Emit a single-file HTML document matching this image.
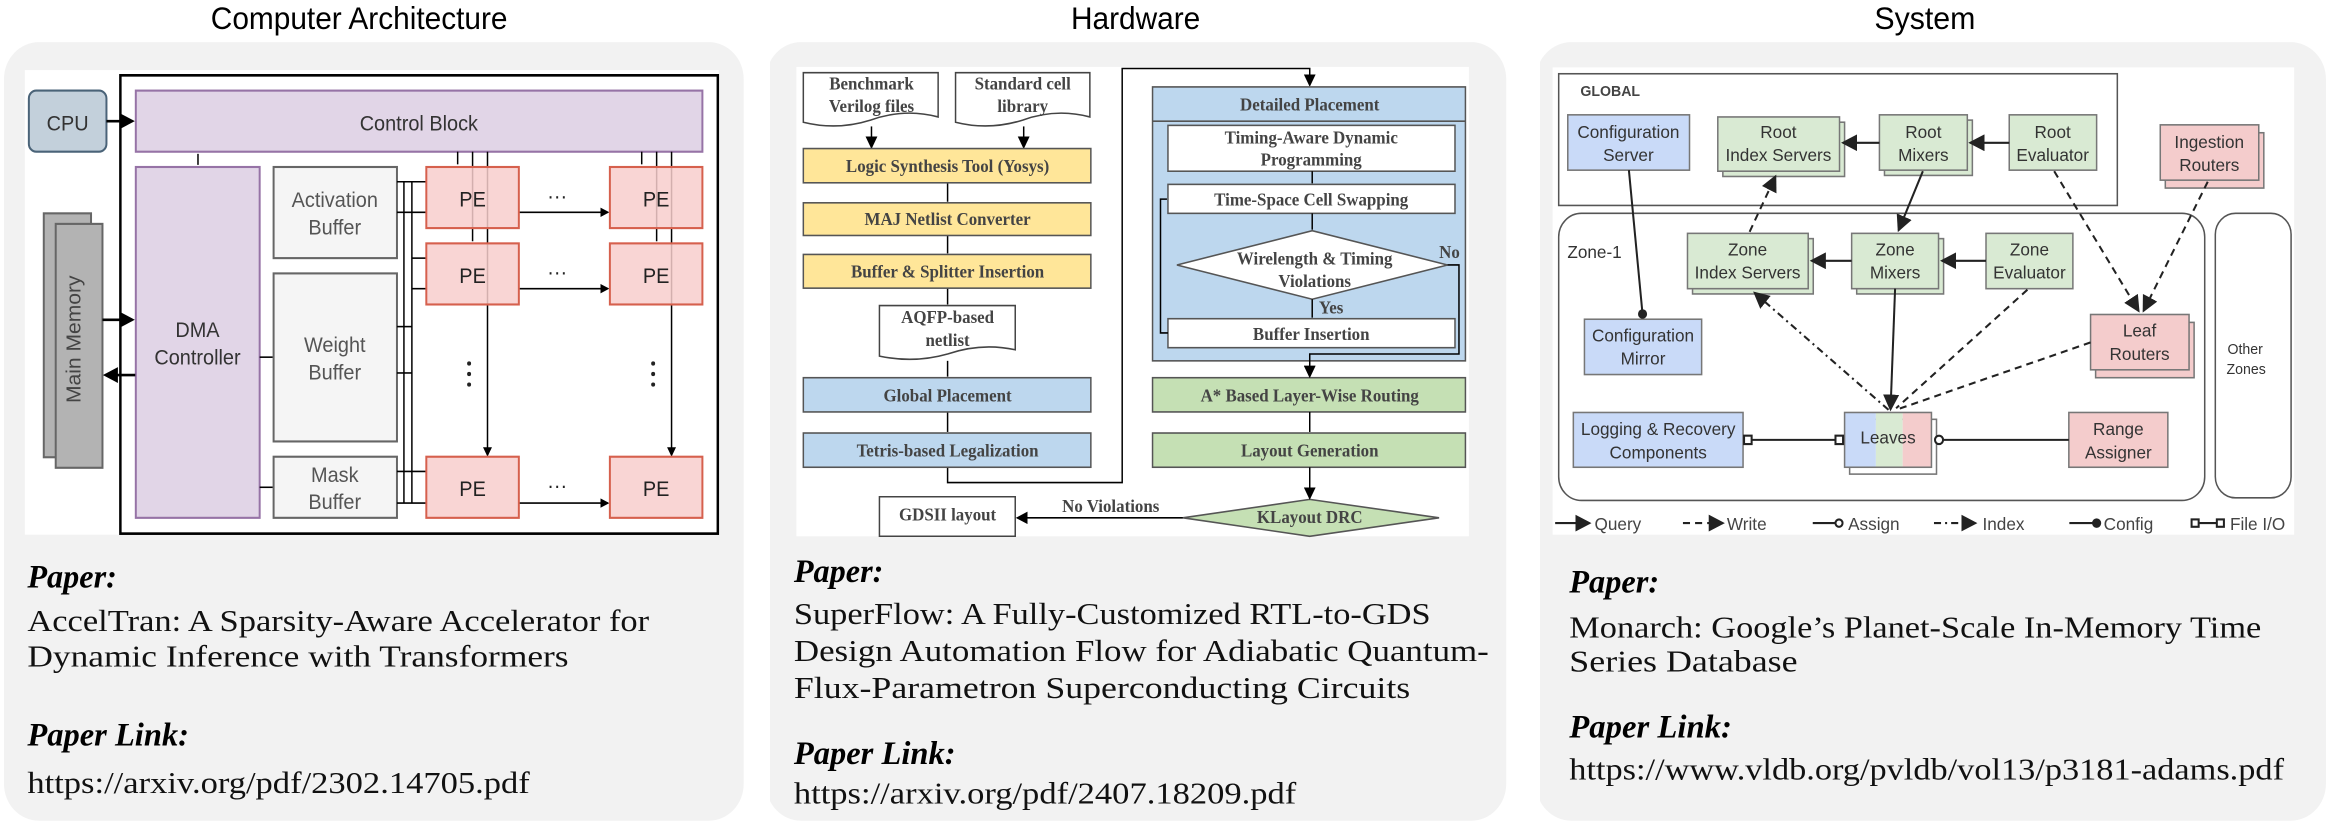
<!DOCTYPE html>
<html><head><meta charset="utf-8"><style>
html,body{margin:0;padding:0;background:#fff;}
body{width:2332px;height:826px;position:relative;overflow:hidden;}
svg{position:absolute;top:0;}
.t{font-family:"Liberation Sans",sans-serif;}
.s{font-family:"Liberation Serif",serif;}
.h{font-family:"Liberation Sans",sans-serif;font-size:60px;fill:#000;text-anchor:middle;}
.pp{font-family:"Liberation Serif",serif;font-weight:bold;font-style:italic;font-size:62px;fill:#000;}
.bt{font-family:"Liberation Serif",serif;font-size:58px;fill:#111;}
</style></head><body>

<!-- Panel 1 -->
<svg style="left:0" width="780" height="826" viewBox="0 0 1568 1568" preserveAspectRatio="none">
<defs><marker id="a1" markerWidth="6" markerHeight="6" refX="5" refY="3" orient="auto" markerUnits="strokeWidth"><path d="M0,0L6,3L0,6z" fill="#000"/></marker></defs>
<rect x="8" y="80" width="1487" height="1478" rx="70" fill="#f2f2f2"/>
<text class="h" x="722" y="55">Computer Architecture</text>
<rect x="50" y="133" width="1395" height="882" fill="#fff"/>
<rect x="242" y="143" width="1201" height="870" fill="none" stroke="#000" stroke-width="5"/>
<rect x="58" y="172" width="156" height="116" rx="15" fill="#c3d0db" stroke="#4a6378" stroke-width="4"/>
<text class="t" x="136" y="248" font-size="40" text-anchor="middle" fill="#333">CPU</text>
<line x1="214" y1="230" x2="266" y2="230" stroke="#000" stroke-width="5" marker-end="url(#a1)"/>
<rect x="273" y="172" width="1139" height="116" fill="#e1d5e7" stroke="#9673a6" stroke-width="4"/>
<text class="t" x="842" y="248" font-size="40" text-anchor="middle" fill="#333">Control Block</text>
<rect x="273" y="317" width="249" height="666" fill="#e1d5e7" stroke="#9673a6" stroke-width="4"/>
<text class="t" x="397" y="640" font-size="40" text-anchor="middle" fill="#333">DMA</text>
<text class="t" x="397" y="692" font-size="40" text-anchor="middle" fill="#333">Controller</text>
<line x1="398" y1="292" x2="398" y2="313" stroke="#000" stroke-width="3"/>
<rect x="88" y="405" width="95" height="463" fill="#b3b3b3" stroke="#666" stroke-width="4"/>
<rect x="112" y="425" width="94" height="463" fill="#b3b3b3" stroke="#666" stroke-width="4"/>
<text class="t" x="175" y="657" font-size="40" text-anchor="middle" fill="#444" transform="rotate(-90 162 657)">Main Memory</text>
<line x1="206" y1="607" x2="266" y2="607" stroke="#000" stroke-width="5" marker-end="url(#a1)"/>
<line x1="272" y1="712" x2="212" y2="712" stroke="#000" stroke-width="5" marker-end="url(#a1)"/>
<g fill="#f5f5f5" stroke="#666" stroke-width="4">
<rect x="550" y="317" width="248" height="173"/><rect x="550" y="519" width="248" height="319"/><rect x="550" y="867" width="248" height="116"/></g>
<g class="t" font-size="40" text-anchor="middle" fill="#555">
<text x="673" y="393">Activation</text><text x="673" y="445">Buffer</text>
<text x="673" y="668">Weight</text><text x="673" y="720">Buffer</text>
<text x="673" y="915">Mask</text><text x="673" y="966">Buffer</text></g>
<g stroke="#000" stroke-width="3">
<line x1="522" y1="678" x2="548" y2="678"/><line x1="522" y1="925" x2="548" y2="925"/>
<line x1="812" y1="345" x2="812" y2="955"/><line x1="828" y1="345" x2="828" y2="955"/>
<line x1="798" y1="345" x2="857" y2="345"/><line x1="798" y1="403" x2="857" y2="403"/>
<line x1="828" y1="490" x2="857" y2="490"/><line x1="828" y1="548" x2="857" y2="548"/>
<line x1="798" y1="620" x2="828" y2="620"/><line x1="798" y1="708" x2="828" y2="708"/>
<line x1="798" y1="895" x2="857" y2="895"/><line x1="798" y1="955" x2="857" y2="955"/>
<line x1="1043" y1="403" x2="1222" y2="403" marker-end="url(#a1)"/>
<line x1="1043" y1="548" x2="1222" y2="548" marker-end="url(#a1)"/>
<line x1="1043" y1="955" x2="1222" y2="955" marker-end="url(#a1)"/>
<line x1="920" y1="288" x2="920" y2="312"/><line x1="950" y1="288" x2="950" y2="458"/><line x1="980" y1="288" x2="980" y2="864" marker-end="url(#a1)"/>
<line x1="1290" y1="288" x2="1290" y2="312"/><line x1="1320" y1="288" x2="1320" y2="458"/><line x1="1350" y1="288" x2="1350" y2="864" marker-end="url(#a1)"/>
</g>
<g fill="#f8cecc" fill-opacity="0.85" stroke="#d6604d" stroke-width="4">
<rect x="857" y="317" width="186" height="116"/><rect x="1226" y="317" width="186" height="116"/>
<rect x="857" y="462" width="186" height="116"/><rect x="1226" y="462" width="186" height="116"/>
<rect x="857" y="867" width="186" height="116"/><rect x="1226" y="867" width="186" height="116"/></g>
<g class="t" font-size="40" text-anchor="middle" fill="#222">
<text x="950" y="392">PE</text><text x="1319" y="392">PE</text>
<text x="950" y="537">PE</text><text x="1319" y="537">PE</text>
<text x="950" y="942">PE</text><text x="1319" y="942">PE</text>
<text x="1120" y="385">···</text><text x="1120" y="530">···</text><text x="1120" y="935">···</text></g>
<g fill="#222"><circle cx="943" cy="690" r="4"/><circle cx="943" cy="710" r="4"/><circle cx="943" cy="730" r="4"/>
<circle cx="1313" cy="690" r="4"/><circle cx="1313" cy="710" r="4"/><circle cx="1313" cy="730" r="4"/></g>
<text class="pp" x="55" y="1115" textLength="180" lengthAdjust="spacingAndGlyphs">Paper:</text>
<text class="bt" x="55" y="1198" textLength="1250" lengthAdjust="spacingAndGlyphs">AccelTran: A Sparsity-Aware Accelerator for</text>
<text class="bt" x="55" y="1265" textLength="1088" lengthAdjust="spacingAndGlyphs">Dynamic Inference with Transformers</text>
<text class="pp" x="55" y="1415" textLength="325" lengthAdjust="spacingAndGlyphs">Paper Link:</text>
<text class="bt" x="55" y="1505" textLength="1010" lengthAdjust="spacingAndGlyphs">https://arxiv.org/pdf/2302.14705.pdf</text>
</svg>

<!-- Panel 2 -->
<svg style="left:770px" width="780" height="826" viewBox="0 0 1568 1568" preserveAspectRatio="none">
<defs><marker id="a2" markerWidth="8" markerHeight="8" refX="7" refY="4" orient="auto" markerUnits="strokeWidth"><path d="M0,0L8,4L0,8z" fill="#000"/></marker></defs>
<rect x="-8" y="80" width="1488" height="1478" rx="70" fill="#f2f2f2"/>
<text class="h" x="735" y="55">Hardware</text>
<rect x="53" y="127" width="1352" height="891" fill="#fff"/>
<g fill="#fff" stroke="#444" stroke-width="3">
<path d="M67,138H338V222Q270,205 202,228Q135,248 67,232Z"/>
<path d="M373,138H643V222Q575,205 508,228Q440,248 373,232Z"/>
<path d="M220,580H493V664Q425,650 357,672Q290,690 220,676Z"/>
<path d="M220,943H493V1018H220Z"/></g>
<g stroke="#000" stroke-width="3" fill="none">
<line x1="204" y1="240" x2="204" y2="280" marker-end="url(#a2)"/>
<line x1="510" y1="240" x2="510" y2="280" marker-end="url(#a2)"/>
<line x1="357" y1="347" x2="357" y2="383"/><line x1="357" y1="447" x2="357" y2="481"/>
<line x1="357" y1="547" x2="357" y2="578"/><line x1="357" y1="685" x2="357" y2="715"/>
<line x1="357" y1="782" x2="357" y2="820"/>
<polyline points="357,887 357,916 708,916 708,130 1085,130 1085,162" marker-end="url(#a2)"/>
</g>
<g stroke="#555" stroke-width="3">
<rect x="67" y="282" width="578" height="65" fill="#ffe699"/>
<rect x="67" y="385" width="578" height="62" fill="#ffe699"/>
<rect x="67" y="483" width="578" height="64" fill="#ffe699"/>
<rect x="67" y="717" width="578" height="65" fill="#bdd7ee"/>
<rect x="67" y="822" width="578" height="65" fill="#bdd7ee"/>
<rect x="769" y="165" width="629" height="520" fill="#bdd7ee"/>
<line x1="769" y1="230" x2="1398" y2="230"/>
<rect x="800" y="238" width="577" height="87" fill="#fff"/>
<rect x="800" y="350" width="577" height="55" fill="#fff"/>
<polygon points="818,503 1090,438 1362,503 1090,568" fill="#fff"/>
<rect x="800" y="605" width="577" height="55" fill="#fff"/>
<rect x="769" y="717" width="629" height="65" fill="#c5e0b4"/>
<rect x="769" y="822" width="629" height="65" fill="#c5e0b4"/>
<polygon points="830,983 1085,948 1345,983 1085,1018" fill="#c5e0b4"/>
</g>
<g stroke="#000" stroke-width="3" fill="none">
<line x1="1090" y1="325" x2="1090" y2="348"/><line x1="1090" y1="405" x2="1090" y2="436"/>
<line x1="1090" y1="568" x2="1090" y2="603"/>
<polyline points="800,632 785,632 785,378 798,378"/>
<polyline points="1362,503 1385,503 1385,672 1085,672 1085,715" marker-end="url(#a2)"/>
<line x1="1085" y1="782" x2="1085" y2="820"/>
<line x1="1085" y1="887" x2="1085" y2="946" marker-end="url(#a2)"/>
<line x1="830" y1="983" x2="497" y2="983" marker-end="url(#a2)"/>
</g>
<g class="s" font-size="34" font-weight="bold" text-anchor="middle" fill="#444">
<text x="204" y="170">Benchmark</text><text x="204" y="213">Verilog files</text>
<text x="508" y="170">Standard cell</text><text x="508" y="213">library</text>
<text x="357" y="327">Logic Synthesis Tool (Yosys)</text>
<text x="357" y="427">MAJ Netlist Converter</text>
<text x="357" y="527">Buffer &amp; Splitter Insertion</text>
<text x="357" y="613">AQFP-based</text><text x="357" y="657">netlist</text>
<text x="357" y="762">Global Placement</text>
<text x="357" y="867">Tetris-based Legalization</text>
<text x="1085" y="210">Detailed Placement</text>
<text x="1088" y="272">Timing-Aware Dynamic</text><text x="1088" y="314">Programming</text>
<text x="1088" y="390">Time-Space Cell Swapping</text>
<text x="1095" y="502">Wirelength &amp; Timing</text><text x="1095" y="545">Violations</text>
<text x="1128" y="595">Yes</text><text x="1366" y="490">No</text>
<text x="1088" y="645">Buffer Insertion</text>
<text x="1085" y="762">A* Based Layer-Wise Routing</text>
<text x="1085" y="867">Layout Generation</text>
<text x="1085" y="993">KLayout DRC</text>
<text x="685" y="972">No Violations</text>
<text x="357" y="988">GDSII layout</text></g>
<text class="pp" x="48" y="1105" textLength="180" lengthAdjust="spacingAndGlyphs">Paper:</text>
<text class="bt" x="48" y="1185" textLength="1280" lengthAdjust="spacingAndGlyphs">SuperFlow: A Fully-Customized RTL-to-GDS</text>
<text class="bt" x="48" y="1255" textLength="1397" lengthAdjust="spacingAndGlyphs">Design Automation Flow for Adiabatic Quantum-</text>
<text class="bt" x="48" y="1325" textLength="1239" lengthAdjust="spacingAndGlyphs">Flux-Parametron Superconducting Circuits</text>
<text class="pp" x="48" y="1450" textLength="325" lengthAdjust="spacingAndGlyphs">Paper Link:</text>
<text class="bt" x="48" y="1525" textLength="1010" lengthAdjust="spacingAndGlyphs">https://arxiv.org/pdf/2407.18209.pdf</text>
</svg>

<!-- Panel 3 -->
<svg style="left:1540px" width="792" height="826" viewBox="0 0 1568 1568" preserveAspectRatio="none">
<defs><marker id="a3" markerWidth="8" markerHeight="8" refX="7" refY="4" orient="auto" markerUnits="strokeWidth"><path d="M0,0L8,4L0,8z" fill="#222"/></marker></defs>
<rect x="-8" y="80" width="1564" height="1478" rx="70" fill="#f2f2f2"/>
<text class="h" x="762" y="55">System</text>
<rect x="25" y="128" width="1468" height="887" fill="#fff"/>
<rect x="37" y="140" width="1106" height="250" fill="none" stroke="#555" stroke-width="3"/>
<text class="t" x="80" y="182" font-size="28" font-weight="bold" fill="#444">GLOBAL</text>
<rect x="37" y="405" width="1279" height="545" rx="45" fill="none" stroke="#555" stroke-width="3"/>
<rect x="1337" y="405" width="150" height="540" rx="40" fill="none" stroke="#555" stroke-width="3"/>
<g stroke="#777" stroke-width="3">
<g fill="#d9ead3"><rect x="362" y="232" width="241" height="103"/><rect x="352" y="222" width="241" height="103"/>
<rect x="682" y="228" width="174" height="105"/><rect x="672" y="218" width="174" height="105"/>
<rect x="929" y="218" width="173" height="105"/>
<rect x="302" y="453" width="239" height="105"/><rect x="292" y="443" width="239" height="105"/>
<rect x="627" y="453" width="172" height="105"/><rect x="617" y="443" width="172" height="105"/>
<rect x="883" y="443" width="172" height="105"/></g>
<g fill="#c9daf8"><rect x="55" y="218" width="241" height="105"/><rect x="88" y="606" width="232" height="105"/><rect x="66" y="783" width="336" height="104"/></g>
<g fill="#f4cccc"><rect x="1238" y="252" width="195" height="105"/><rect x="1228" y="237" width="195" height="105"/>
<rect x="1100" y="612" width="195" height="105"/><rect x="1090" y="597" width="195" height="105"/>
<rect x="1047" y="783" width="196" height="104"/></g>
<rect x="613" y="796" width="172" height="104" fill="#fff"/>
</g>
<rect x="603" y="783" width="62" height="104" fill="#c9daf8"/><rect x="665" y="783" width="53" height="104" fill="#d9ead3"/><rect x="718" y="783" width="57" height="104" fill="#f4cccc"/>
<rect x="603" y="783" width="172" height="104" fill="none" stroke="#777" stroke-width="3"/>
<g stroke="#222" stroke-width="4" fill="none">
<line x1="672" y1="271" x2="600" y2="271" marker-end="url(#a3)"/>
<line x1="929" y1="271" x2="852" y2="271" marker-end="url(#a3)"/>
<line x1="617" y1="495" x2="538" y2="495" marker-end="url(#a3)"/>
<line x1="883" y1="495" x2="796" y2="495" marker-end="url(#a3)"/>
<line x1="758" y1="325" x2="710" y2="437" marker-end="url(#a3)"/>
<line x1="703" y1="548" x2="694" y2="777" marker-end="url(#a3)"/>
<line x1="176" y1="323" x2="203" y2="596"/>
<line x1="412" y1="835" x2="590" y2="835"/><line x1="795" y1="835" x2="1047" y2="835"/>
<g stroke-dasharray="14,10">
<line x1="415" y1="440" x2="466" y2="335" marker-end="url(#a3)"/>
<line x1="1018" y1="325" x2="1185" y2="590" marker-end="url(#a3)"/>
<line x1="1322" y1="345" x2="1195" y2="590" marker-end="url(#a3)"/>
<line x1="965" y1="550" x2="705" y2="775"/>
<line x1="1090" y1="650" x2="705" y2="778"/></g>
<line x1="690" y1="778" x2="425" y2="556" stroke-dasharray="14,8,4,8" marker-end="url(#a3)"/>
</g>
<circle cx="203" cy="596" r="9" fill="#222"/>
<g fill="#fff" stroke="#222" stroke-width="4"><rect x="404" y="827" width="15" height="16"/><rect x="585" y="827" width="15" height="16"/>
<circle cx="790" cy="835" r="8"/></g>
<g class="t" font-size="34" text-anchor="middle" fill="#333">
<text x="175" y="262">Configuration</text><text x="175" y="306">Server</text>
<text x="472" y="262">Root</text><text x="472" y="306">Index Servers</text>
<text x="759" y="262">Root</text><text x="759" y="306">Mixers</text>
<text x="1015" y="262">Root</text><text x="1015" y="306">Evaluator</text>
<text x="1325" y="281">Ingestion</text><text x="1325" y="325">Routers</text>
<text x="411" y="485">Zone</text><text x="411" y="529">Index Servers</text>
<text x="703" y="485">Zone</text><text x="703" y="529">Mixers</text>
<text x="969" y="485">Zone</text><text x="969" y="529">Evaluator</text>
<text x="204" y="648">Configuration</text><text x="204" y="692">Mirror</text>
<text x="1187" y="639">Leaf</text><text x="1187" y="683">Routers</text>
<text x="234" y="826">Logging &amp; Recovery</text><text x="234" y="870">Components</text>
<text x="689" y="842">Leaves</text>
<text x="1145" y="826">Range</text><text x="1145" y="870">Assigner</text>
<text x="1396" y="672" font-size="28">Other</text><text x="1398" y="710" font-size="28">Zones</text>
<text x="108" y="490" text-anchor="middle">Zone-1</text></g>
<g stroke="#222" stroke-width="4" fill="none">
<line x1="30" y1="993" x2="98" y2="993" marker-end="url(#a3)"/>
<line x1="283" y1="993" x2="362" y2="993" stroke-dasharray="14,10" marker-end="url(#a3)"/>
<line x1="540" y1="993" x2="584" y2="993"/><circle cx="592" cy="993" r="7" fill="#fff"/>
<line x1="780" y1="993" x2="862" y2="993" stroke-dasharray="14,8,4,8" marker-end="url(#a3)"/>
<line x1="1048" y1="993" x2="1095" y2="993"/>
<rect x="1290" y="986" width="14" height="14" fill="#fff"/><line x1="1304" y1="993" x2="1340" y2="993"/><rect x="1340" y="986" width="14" height="14" fill="#fff"/>
</g>
<circle cx="1102" cy="993" r="9" fill="#222"/>
<g class="t" font-size="34" fill="#444">
<text x="108" y="1006">Query</text><text x="370" y="1006">Write</text><text x="610" y="1006">Assign</text>
<text x="876" y="1006">Index</text><text x="1116" y="1006">Config</text><text x="1366" y="1006">File I/O</text></g>
<text class="pp" x="58" y="1125" textLength="178" lengthAdjust="spacingAndGlyphs">Paper:</text>
<text class="bt" x="58" y="1210" textLength="1370" lengthAdjust="spacingAndGlyphs">Monarch: Google’s Planet-Scale In-Memory Time</text>
<text class="bt" x="58" y="1275" textLength="452" lengthAdjust="spacingAndGlyphs">Series Database</text>
<text class="pp" x="58" y="1400" textLength="322" lengthAdjust="spacingAndGlyphs">Paper Link:</text>
<text class="bt" x="58" y="1480" textLength="1415" lengthAdjust="spacingAndGlyphs">https://www.vldb.org/pvldb/vol13/p3181-adams.pdf</text>
</svg>
</body></html>
